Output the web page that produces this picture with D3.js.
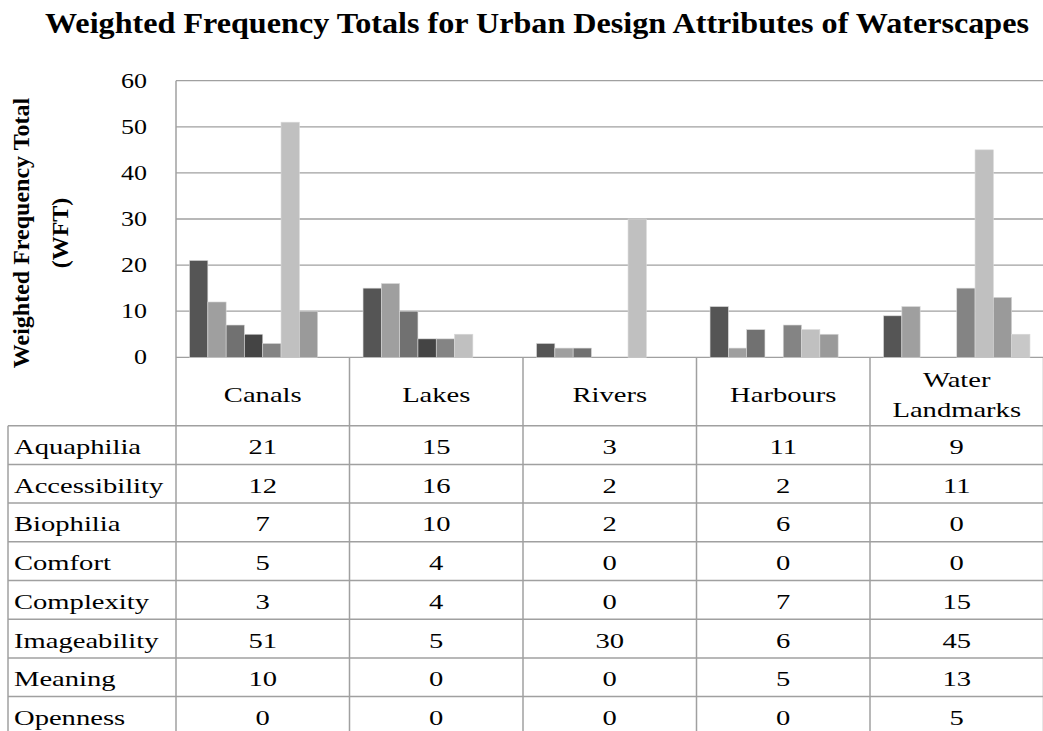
<!DOCTYPE html>
<html>
<head>
<meta charset="utf-8">
<script src="https://cdn.jsdelivr.net/npm/d3@7"></script>
<style>
  html, body { margin: 0; padding: 0; background: #fff; }
  svg { display: block; }
</style>
</head>
<body>
<svg id="chart" width="1043" height="731"></svg>
<script>
const categories = ["Canals", "Lakes", "Rivers", "Harbours", "Water Landmarks"];
const categoryLines = [["Canals"], ["Lakes"], ["Rivers"], ["Harbours"], ["Water", "Landmarks"]];
const series = ["Aquaphilia", "Accessibility", "Biophilia", "Comfort", "Complexity", "Imageability", "Meaning", "Openness"];
const aquaphilia    = [21, 15, 3, 11, 9];
const accessibility = [12, 16, 2, 2, 11];
const biophilia     = [7, 10, 2, 6, 0];
const comfort       = [5, 4, 0, 0, 0];
const complexity    = [3, 4, 0, 7, 15];
const imageability  = [51, 5, 30, 6, 45];
const meaning       = [10, 0, 0, 5, 13];
const openness      = [0, 0, 0, 0, 5];
const yTicks = [0, 10, 20, 30, 40, 50, 60];
const seriesColors = ["#555555", "#9f9f9f", "#717171", "#444444", "#848484", "#c0c0c0", "#9a9a9a", "#c8c8c8"];

const values = [aquaphilia, accessibility, biophilia, comfort, complexity, imageability, meaning, openness];
const rows = series.map((s, i) => ({ name: s, values: values[i], color: seriesColors[i] }));

const FONT = "Liberation Serif";
const svg = d3.select("#chart");

// layout
const plotLeft = 176, plotRight = 1043.5, plotTop = 80.7, plotBottom = 357.3;
const tableLeft = 8, headerBottom = 425.7, rowH = 38.7;
const sx = 1.3;          // horizontal stretch of the table / axis text
const tSize = 22;        // table text size

const x = d3.scaleBand().domain(categories).range([plotLeft, plotRight]).paddingInner(0).paddingOuter(0);
const x1 = d3.scaleBand().domain(series).range([0, x.bandwidth()]).paddingInner(0).paddingOuter(0.74);
const y = d3.scaleLinear().domain([0, 60]).range([plotBottom, plotTop]);
const rowY = d3.scaleBand().domain(series).range([headerBottom, headerBottom + rowH * series.length]);

const lineColor = "#a0a0a0";

// title
svg.append("text")
  .attr("x", 45).attr("y", 33.3)
  .attr("font-family", FONT)
  .attr("font-weight", "bold").attr("font-size", 30)
  .attr("textLength", 984).attr("lengthAdjust", "spacingAndGlyphs")
  .text("Weighted Frequency Totals for Urban Design Attributes of Waterscapes");

// gridlines
svg.append("g").selectAll("line").data(yTicks).join("line")
  .attr("x1", plotLeft).attr("x2", plotRight)
  .attr("y1", d => y(d)).attr("y2", d => y(d))
  .attr("stroke", lineColor).attr("stroke-width", 1.3);

// y tick labels
svg.append("g").selectAll("text").data(yTicks).join("text")
  .attr("transform", d => `translate(147, ${y(d) + 7}) scale(${sx},1)`)
  .attr("text-anchor", "end")
  .attr("font-family", FONT)
  .attr("font-size", 20)
  .text(d => d);

// y axis title
const yt = svg.append("text")
  .attr("transform", `translate(0, 233) rotate(-90)`)
  .attr("text-anchor", "middle")
  .attr("font-family", FONT)
  .attr("font-weight", "bold").attr("font-size", 24);
yt.append("tspan").attr("x", 0).attr("y", 29).text("Weighted Frequency Total");
yt.append("tspan").attr("x", 0).attr("y", 68).text("(WFT)");

// bars
const groups = svg.append("g").selectAll("g").data(categories).join("g")
  .attr("transform", d => `translate(${x(d)},0)`);
groups.selectAll("rect")
  .data((c, ci) => rows.map(r => ({ name: r.name, value: r.values[ci], color: r.color })))
  .join("rect")
  .attr("x", d => x1(d.name))
  .attr("width", x1.bandwidth())
  .attr("y", d => y(d.value))
  .attr("height", d => y(0) - y(d.value))
  .attr("fill", d => d.color)
  .attr("stroke", d => d.value > 0 ? "#d8d8d8" : "none")
  .attr("stroke-width", 0.6);

// axis line (left)
svg.append("line")
  .attr("x1", plotLeft).attr("x2", plotLeft)
  .attr("y1", plotTop).attr("y2", 731)
  .attr("stroke", lineColor).attr("stroke-width", 1.5);

// category column separators
svg.append("g").selectAll("line").data(categories.slice(1)).join("line")
  .attr("x1", d => x(d)).attr("x2", d => x(d))
  .attr("y1", plotBottom).attr("y2", 731)
  .attr("stroke", lineColor).attr("stroke-width", 1.5);
svg.append("line")
  .attr("x1", plotRight).attr("x2", plotRight)
  .attr("y1", plotBottom).attr("y2", 731)
  .attr("stroke", lineColor).attr("stroke-width", 1.5);

// table left border
svg.append("line")
  .attr("x1", tableLeft).attr("x2", tableLeft)
  .attr("y1", headerBottom).attr("y2", 731)
  .attr("stroke", lineColor).attr("stroke-width", 1.5);

// table horizontal lines
svg.append("g").selectAll("line").data(series).join("line")
  .attr("x1", tableLeft).attr("x2", plotRight)
  .attr("y1", d => rowY(d)).attr("y2", d => rowY(d))
  .attr("stroke", lineColor).attr("stroke-width", 1.5);

// category header labels
const headerMid = (plotBottom + headerBottom) / 2;
const hdrG = svg.append("g");
categories.forEach((c, i) => {
  const lines = categoryLines[i];
  lines.forEach((ln, j) => {
    hdrG.append("text")
      .attr("transform", `translate(${x(c) + x.bandwidth() / 2}, ${headerMid + 10 + (j - (lines.length - 1) / 2) * 30}) scale(${sx},1)`)
      .attr("text-anchor", "middle")
      .attr("font-family", FONT)
      .attr("font-size", tSize)
      .text(ln);
  });
});

// row labels
svg.append("g").selectAll("text").data(series).join("text")
  .attr("transform", d => `translate(${tableLeft + 6}, ${rowY(d) + rowY.bandwidth() / 2 + 9}) scale(${sx},1)`)
  .attr("font-family", FONT)
  .attr("font-size", tSize)
  .text(d => d);

// cell values
const rowG = svg.append("g").selectAll("g").data(rows).join("g");
rowG.selectAll("text")
  .data(r => categories.map((c, ci) => ({ row: r.name, cat: c, v: r.values[ci] })))
  .join("text")
  .attr("transform", d => `translate(${x(d.cat) + x.bandwidth() / 2}, ${rowY(d.row) + rowY.bandwidth() / 2 + 9}) scale(${sx},1)`)
  .attr("text-anchor", "middle")
  .attr("font-family", FONT)
  .attr("font-size", tSize)
  .text(d => d.v);
</script>
</body>
</html>
